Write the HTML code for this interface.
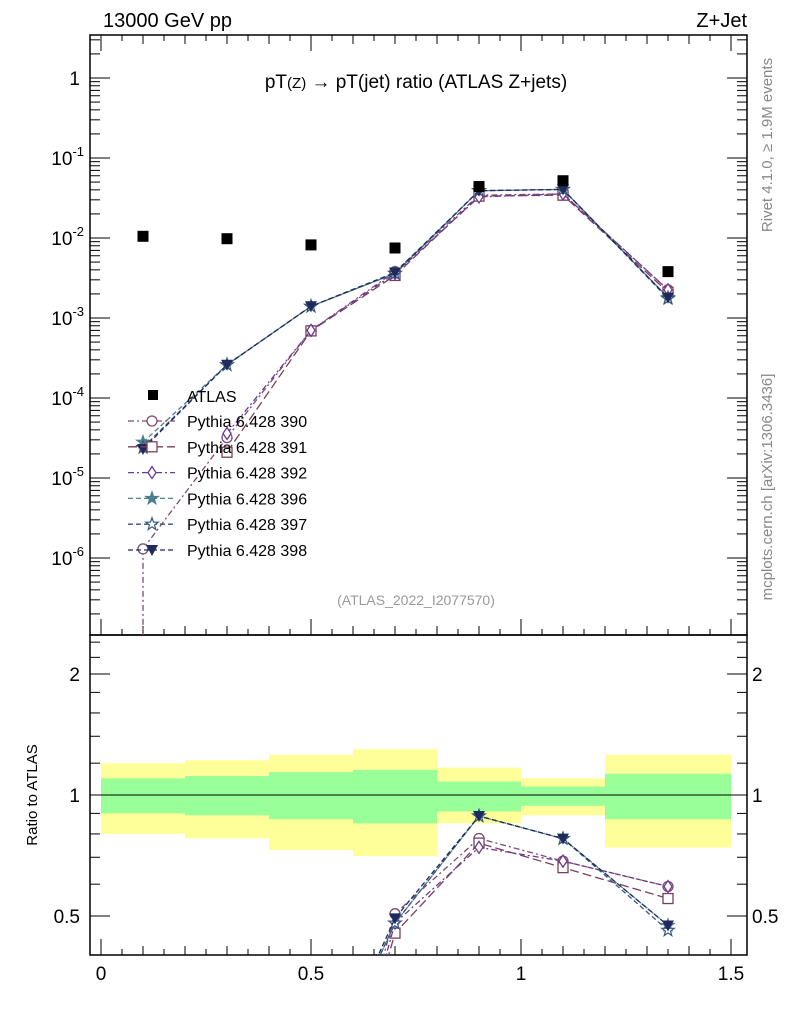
<!DOCTYPE html>
<html><head><meta charset="utf-8"><style>
html,body{margin:0;background:#fff;width:786px;height:1024px;overflow:hidden}
svg{display:block;font-family:"Liberation Sans",sans-serif}
</style></head><body>
<svg id="c" width="786" height="1024"></svg>
<script>
const categories=[0.1,0.3,0.5,0.7,0.9,1.1,1.35];
const binEdges=[0,0.2,0.4,0.6,0.8,1.0,1.2,1.5];
const atlas=[0.0105,0.0098,0.0082,0.0075,0.044,0.052,0.0038];
const mc390=[1.3e-6,3.2e-5,7.0e-4,3.8e-3,0.0343,0.0356,0.00225];
const mc391=[null,2.1e-5,6.9e-4,3.4e-3,0.0334,0.0343,0.0021];
const mc392=[null,3.6e-5,7.0e-4,3.6e-3,0.0326,0.0356,0.00225];
const mc396=[2.8e-5,2.6e-4,1.4e-3,3.6e-3,0.039,0.0405,0.0018];
const mc397=[2.4e-5,2.6e-4,1.4e-3,3.6e-3,0.039,0.0405,0.00175];
const mc398=[2.3e-5,2.6e-4,1.4e-3,3.7e-3,0.039,0.0405,0.0018];
const yellowHi=[1.20,1.22,1.26,1.30,1.17,1.10,1.26];
const yellowLo=[0.80,0.78,0.73,0.705,0.85,0.89,0.74];
const greenHi=[1.10,1.115,1.14,1.155,1.08,1.05,1.13];
const greenLo=[0.90,0.89,0.87,0.85,0.91,0.94,0.87];
const seriesNames=["Pythia 6.428 390","Pythia 6.428 391","Pythia 6.428 392","Pythia 6.428 396","Pythia 6.428 397","Pythia 6.428 398"];

const svg=document.getElementById('c');const NS='http://www.w3.org/2000/svg';
function mk(t,a,p){const e=document.createElementNS(NS,t);for(const k in a)e.setAttribute(k,a[k]);(p||svg).appendChild(e);return e;}
const L=90,R=747,T=35,M=635,B=955;
const X=v=>101+v*(731-101)/1.5;
const Y=v=>78-80*Math.log10(v);
const YR=v=>795-121*Math.log2(v);
const defs=mk('defs',{});
const c1=mk('clipPath',{id:'cm'},defs);mk('rect',{x:L,y:T,width:R-L,height:M-T},c1);
const c2=mk('clipPath',{id:'cr'},defs);mk('rect',{x:L,y:M,width:R-L,height:B-M},c2);

const bands=mk('g',{'clip-path':'url(#cr)'});

for(let i=0;i<categories.length;i++){
 const x0=X(binEdges[i]),x1=X(binEdges[i+1]);
 const y=mk('rect',{x:x0,y:YR(yellowHi[i]),width:x1-x0,height:YR(yellowLo[i])-YR(yellowHi[i]),fill:'#ffff99'},bands);
 
 const g=mk('rect',{x:x0,y:YR(greenHi[i]),width:x1-x0,height:YR(greenLo[i])-YR(greenHi[i]),fill:'#99ff99'},bands);
 
}
mk('line',{x1:L,x2:R,y1:YR(1),y2:YR(1),stroke:'#000','stroke-width':1});

for(const [t,b,n] of [[T,M,'main-frame'],[M,B,'ratio-frame']]){const r=mk('rect',{x:L,y:t,width:R-L,height:b-t,fill:'none',stroke:'#000','stroke-width':1.5});}

for(let k=0;k<=32;k++){const v=k*0.05;const x=X(v);if(x<L||x>R)continue;
 const maj=k%10===0,mid=k%2===0;const len=maj?16:(mid?9:6);
 for(const [yb,dir] of [[M,-1],[T,1],[B,-1]]){mk('line',{x1:x,x2:x,y1:yb,y2:yb+dir*len,stroke:'#000','stroke-width':1});}
 if(maj){const t=mk('text',{x:x,y:980,'font-size':19,'text-anchor':'middle'});t.textContent=v===0?'0':(v===1?'1':v.toFixed(1));}
}
for(let d=-7;d<=0;d++){for(let m=1;m<10;m++){const v=m*Math.pow(10,d);const y=Y(v);if(y<T||y>M)continue;
 const len=m===1?20:10;mk('line',{x1:L,x2:L+len,y1:y,y2:y,stroke:'#000'});mk('line',{x1:R,x2:R-len,y1:y,y2:y,stroke:'#000'});}}
const yl=mk('g',{});
for(let d=-6;d<=0;d++){const y=Y(Math.pow(10,d));const t=mk('text',{x:d===0?80:84,y:y+7,'font-size':19,'text-anchor':'end'},yl);
 if(d===0)t.textContent='1';else{t.textContent='10';const s=mk('tspan',{dy:-9,'font-size':13},t);s.textContent=String(d);}}
for(const v of [0.4,0.5,0.6,0.7,0.8,0.9,1,1.2,1.4,1.6,1.8,2,2.2,2.4]){const y=YR(v);if(y<M||y>B)continue;const len=(v===0.5||v===1||v===2)?20:10;
 mk('line',{x1:L,x2:L+len,y1:y,y2:y,stroke:'#000'});mk('line',{x1:R,x2:R-len,y1:y,y2:y,stroke:'#000'});}
for(const v of [0.5,1,2]){const y=YR(v)+7;const a=mk('text',{x:80,y:y,'font-size':19,'text-anchor':'end'});a.textContent=String(v);
 const b=mk('text',{x:752,y:y,'font-size':19});b.textContent=String(v);}
const rt=mk('text',{x:37,y:795,'font-size':15,'text-anchor':'middle',transform:'rotate(-90 37 795)'});rt.textContent='Ratio to ATLAS';

let t=mk('text',{x:103,y:27,'font-size':20});t.textContent='13000 GeV pp';
t=mk('text',{x:747,y:27,'font-size':20,'text-anchor':'end'});t.textContent='Z+Jet';
t=mk('text',{x:416,y:88,'font-size':19,'text-anchor':'middle'});t.innerHTML='pT<tspan font-size="15">(Z)</tspan> → pT(jet) ratio (ATLAS Z+jets)';
t=mk('text',{x:416,y:605,'font-size':14,'text-anchor':'middle',fill:'#999'});t.textContent='(ATLAS_2022_I2077570)';
t=mk('text',{x:0,y:0,'font-size':15,fill:'#888','text-anchor':'middle',transform:'translate(772 145) rotate(-90)'});t.textContent='Rivet 4.1.0, ≥ 1.9M events';
t=mk('text',{x:0,y:0,'font-size':15,fill:'#888','text-anchor':'middle',transform:'translate(772 487) rotate(-90)'});t.textContent='mcplots.cern.ch [arXiv:1306.3436]';

const series=[mc390,mc391,mc392,mc396,mc397,mc398];
const colors=['#7d4a72','#7a3f5c','#6b3a95','#4d7f8c','#36587e','#1e2b5c'];
const dashes=['6 3 2 3','9 4','6 3 2 3','5 3','5 3','5 3'];
const markers=['circle','square','diamond','starf','staro','tri'];
function marker(g,kind,x,y,col){
 if(kind==='circle')mk('circle',{cx:x,cy:y,r:5,fill:'#fff',stroke:col,'stroke-width':1.3},g);
 else if(kind==='square')mk('rect',{x:x-5,y:y-5,width:10,height:10,fill:'#fff',stroke:col,'stroke-width':1.3},g);
 else if(kind==='diamond')mk('polygon',{points:`${x},${y-6} ${x+4},${y} ${x},${y+6} ${x-4},${y}`,fill:'#fff',stroke:col,'stroke-width':1.3},g);
 else if(kind==='tri')mk('polygon',{points:`${x-6},${y-5} ${x+6},${y-5} ${x},${y+6}`,fill:col},g);
 else{let p=[];for(let i=0;i<10;i++){const r=i%2?2.6:6.5,a=-Math.PI/2+i*Math.PI/5;p.push((x+r*Math.cos(a)).toFixed(1)+','+(y+r*Math.sin(a)).toFixed(1));}
  mk('polygon',{points:p.join(' '),fill:kind==='starf'?col:'#fff',stroke:col,'stroke-width':1.2},g);}
}
series.forEach((s,i)=>{
 const idx=s.map((v,j)=>j).filter(j=>s[j]!==null);
 const gm=mk('g',{'clip-path':'url(#cm)'});
 mk('polyline',{points:idx.map(j=>X(categories[j])+','+Y(s[j])).join(' '),fill:'none',stroke:colors[i],'stroke-width':1.3,'stroke-dasharray':dashes[i]},gm);
 if(i===0){mk('line',{x1:X(categories[0]),x2:X(categories[0]),y1:Y(s[0]),y2:M,stroke:colors[i],'stroke-width':1.3,'stroke-dasharray':dashes[i]},gm);}
 idx.forEach(j=>marker(gm,markers[i],X(categories[j]),Y(s[j]),colors[i]));
 const gr=mk('g',{'clip-path':'url(#cr)'});
 mk('polyline',{points:idx.map(j=>X(categories[j])+','+YR(s[j]/atlas[j])).join(' '),fill:'none',stroke:colors[i],'stroke-width':1.3,'stroke-dasharray':dashes[i]},gr);
 idx.forEach(j=>marker(gr,markers[i],X(categories[j]),YR(s[j]/atlas[j]),colors[i]));
});
const ga=mk('g',{});
atlas.forEach((v,j)=>{const r=mk('rect',{x:X(categories[j])-5.5,y:Y(v)-5.5,width:11,height:11,fill:'#000'},ga);});

const lg=mk('g',{});
mk('rect',{x:148,y:390,width:10,height:10,fill:'#000'},lg);
t=mk('text',{x:187,y:402,'font-size':16},lg);t.textContent='ATLAS';
seriesNames.forEach((n,i)=>{const y=421+i*25.8;
 const e=mk('g',{},lg);
 mk('line',{x1:128,x2:175,y1:y,y2:y,stroke:colors[i],'stroke-width':1.3,'stroke-dasharray':dashes[i]},e);
 marker(e,markers[i],152,y,colors[i]);
 const tx=mk('text',{x:187,y:y+6,'font-size':16},e);tx.textContent=n;});
</script>
</body></html>
